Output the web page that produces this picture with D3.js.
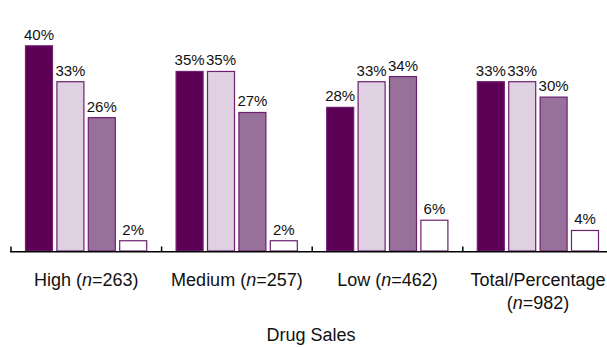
<!DOCTYPE html>
<html>
<head>
<meta charset="utf-8">
<script src="https://cdn.jsdelivr.net/npm/d3@7"></script>
<style>
  body { margin: 0; background: #fff; }
  svg { display: block; font-family: "Liberation Sans", Arial, sans-serif; }
</style>
</head>
<body>
<div id="chart"></div>
<script>
// categories along x, with sample sizes
const categories = ["High", "Medium", "Low", "Total/Percentage"]
const sampleSizes = [263, 257, 462, 982]
const series = ["s1", "s2", "s3", "s4"]
// percentages per category, one list per series
const s1 = [40, 35, 28, 33]
const s2 = [33, 35, 33, 33]
const s3 = [26, 27, 34, 30]
const s4 = [2, 2, 6, 4]
const xTitle = "Drug Sales"

const width = 607
const height = 348
const base = 251

const fills = ["#5b0055", "#dfd0e2", "#977199", "#ffffff"]
const outline = "#6e2070"

const values = [s1, s2, s3, s4]

const svg = d3.select("#chart").append("svg")
  .attr("width", width)
  .attr("height", height)

const x = d3.scaleBand()
  .domain(categories)
  .range([11, 11 + 4 * 150.6])

const xInner = d3.scaleBand()
  .domain(series)
  .range([14, 136.2])
  .paddingInner(0.108)

const y = d3.scaleLinear()
  .domain([0, 45])
  .range([base, base - 45 * 5.13])

const groups = svg.append("g").selectAll("g")
  .data(categories)
  .enter().append("g")
  .attr("transform", d => `translate(${x(d)},0)`)

groups.selectAll("rect")
  .data((c, i) => series.map((s, j) => ({ s, j, v: values[j][i] })))
  .enter().append("rect")
  .attr("x", d => xInner(d.s) + 0.5)
  .attr("y", d => y(d.v))
  .attr("width", xInner.bandwidth() - 1)
  .attr("height", d => base - y(d.v))
  .attr("fill", d => fills[d.j])
  .attr("stroke", outline)
  .attr("stroke-width", 1.2)

groups.selectAll("text.val")
  .data((c, i) => series.map((s, j) => ({ s, j, v: values[j][i] })))
  .enter().append("text")
  .attr("class", "val")
  .attr("x", d => xInner(d.s) + xInner.bandwidth() / 2)
  .attr("y", d => y(d.v) - 6)
  .attr("text-anchor", "middle")
  .attr("font-size", 15)
  .attr("fill", "#111")
  .text(d => d.v + "%")

// axis line and upward ticks at category boundaries
svg.append("line")
  .attr("x1", 10).attr("x2", width)
  .attr("y1", base + 0.8).attr("y2", base + 0.8)
  .attr("stroke", "#000").attr("stroke-width", 1.6)

svg.append("g").selectAll("line")
  .data(categories)
  .enter().append("line")
  .attr("x1", d => x(d)).attr("x2", d => x(d))
  .attr("y1", base - 4.5).attr("y2", base + 1)
  .attr("stroke", "#000").attr("stroke-width", 1.5)

// category labels
const labels = svg.append("g").selectAll("text")
  .data(categories)
  .enter().append("text")
  .attr("x", d => x(d) + x.bandwidth() / 2)
  .attr("y", 286)
  .attr("text-anchor", "middle")
  .attr("font-size", 18)
  .attr("fill", "#111")

labels.each(function(d, i) {
  const t = d3.select(this)
  const cx = x(d) + x.bandwidth() / 2
  if (d.length > 10) {
    t.append("tspan").text(d)
    const l2 = t.append("tspan").attr("x", cx).attr("dy", 23)
    l2.append("tspan").text("(")
    l2.append("tspan").attr("font-style", "italic").text("n")
    l2.append("tspan").text("=" + sampleSizes[i] + ")")
  } else {
    t.append("tspan").text(d + " (")
    t.append("tspan").attr("font-style", "italic").text("n")
    t.append("tspan").text("=" + sampleSizes[i] + ")")
  }
})

svg.append("text")
  .attr("x", 311)
  .attr("y", 341)
  .attr("text-anchor", "middle")
  .attr("font-size", 18)
  .attr("fill", "#111")
  .text(xTitle)
</script>
</body>
</html>
